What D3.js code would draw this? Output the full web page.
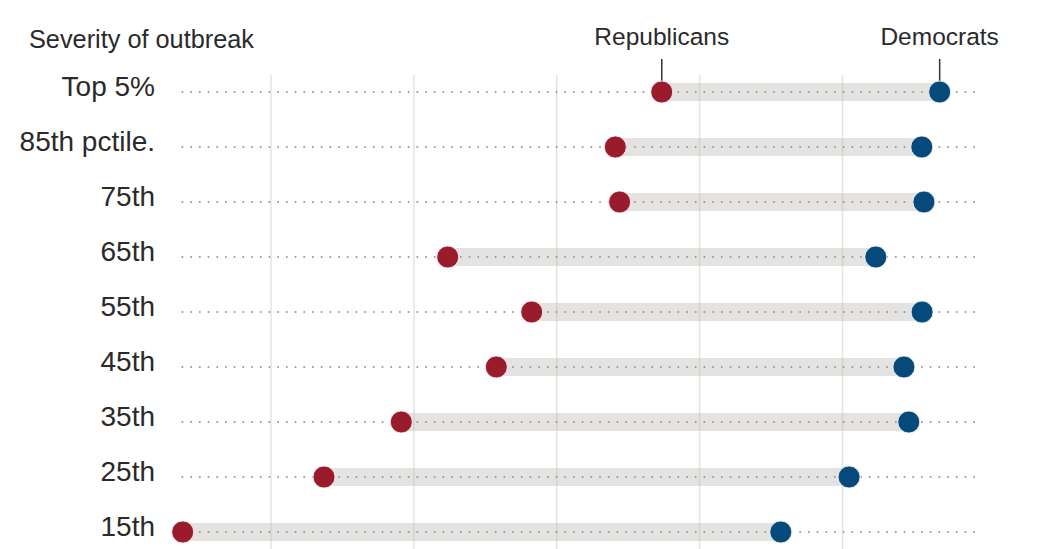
<!DOCTYPE html>
<html>
<head>
<meta charset="utf-8">
<script src="https://cdn.jsdelivr.net/npm/d3@7"></script>
<style>
html,body{margin:0;padding:0;background:#fff;}
svg{display:block;}
text{font-family:"Liberation Sans","Noto Sans",Arial,sans-serif;fill:#2a2a2a;}
</style>
</head>
<body>
<svg id="chart" width="1050" height="549"></svg>
<script>
const categories = ["Top 5%", "85th pctile.", "75th", "65th", "55th", "45th", "35th", "25th", "15th"];
const republicans = [37.35, 34.1, 34.4, 22.37, 28.25, 25.77, 19.12, 13.71, 3.82];
const democrats   = [56.8, 55.55, 55.7, 52.33, 55.57, 54.3, 54.64, 50.46, 45.68];
const gridValues = [10, 20, 30, 40, 50];
const lineExtent = [3.8, 59.5];
const titleText = "Severity of outbreak";
const seriesNames = ["Republicans", "Democrats"];

const svg = d3.select("#chart");
const x = d3.scaleLinear().domain([10, 50]).range([271, 842.5]);
const y = d3.scalePoint().domain(categories).range([92, 532]);

const rows = categories.map((c, i) => ({cat: c, r: republicans[i], d: democrats[i]}));

// bands
svg.append("g").selectAll("rect").data(rows).join("rect")
  .attr("x", d => x(Math.min(d.r, d.d)))
  .attr("width", d => Math.abs(x(d.d) - x(d.r)))
  .attr("y", d => y(d.cat) - 9)
  .attr("height", 18)
  .attr("fill", "#e4e3e1");

// gridlines
svg.append("g").selectAll("line").data(gridValues).join("line")
  .attr("x1", d => x(d)).attr("x2", d => x(d))
  .attr("y1", 75).attr("y2", 549)
  .attr("stroke", "rgba(196,192,180,0.45)")
  .attr("stroke-width", 1.5);

// dotted lines
svg.append("g").selectAll("line").data(rows).join("line")
  .attr("x1", x(lineExtent[0])).attr("x2", x(lineExtent[1]))
  .attr("y1", d => y(d.cat)).attr("y2", d => y(d.cat))
  .attr("stroke", "#9a9893")
  .attr("stroke-width", 2)
  .attr("stroke-linecap", "round")
  .attr("stroke-dasharray", "0,8.7");

// row labels
svg.append("g").selectAll("text").data(rows).join("text")
  .attr("x", 155)
  .attr("y", d => y(d.cat) + 4)
  .attr("text-anchor", "end")
  .attr("font-size", 28)
  .text(d => d.cat);

// title
svg.append("text")
  .attr("x", 29).attr("y", 47.5)
  .attr("font-size", 25.3)
  .text(titleText);

// leader lines + series labels for first row
const first = rows[0];
[[first.r, seriesNames[0]], [first.d, seriesNames[1]]].forEach(([v, name]) => {
  svg.append("line")
    .attr("x1", x(v)).attr("x2", x(v))
    .attr("y1", 59).attr("y2", y(first.cat) - 10)
    .attr("stroke", "#333").attr("stroke-width", 1.5);
  svg.append("text")
    .attr("x", x(v)).attr("y", 45)
    .attr("text-anchor", "middle")
    .attr("font-size", 24.5)
    .text(name);
});

// circles
const g = svg.append("g");
g.selectAll("circle.r").data(rows).join("circle")
  .attr("class", "r")
  .attr("cx", d => x(d.r)).attr("cy", d => y(d.cat)).attr("r", 11)
  .attr("fill", "#9a1b2b").attr("stroke", "#fff").attr("stroke-width", 0.8);
g.selectAll("circle.d").data(rows).join("circle")
  .attr("class", "d")
  .attr("cx", d => x(d.d)).attr("cy", d => y(d.cat)).attr("r", 11)
  .attr("fill", "#064a7b").attr("stroke", "#fff").attr("stroke-width", 0.8);
</script>
</body>
</html>
